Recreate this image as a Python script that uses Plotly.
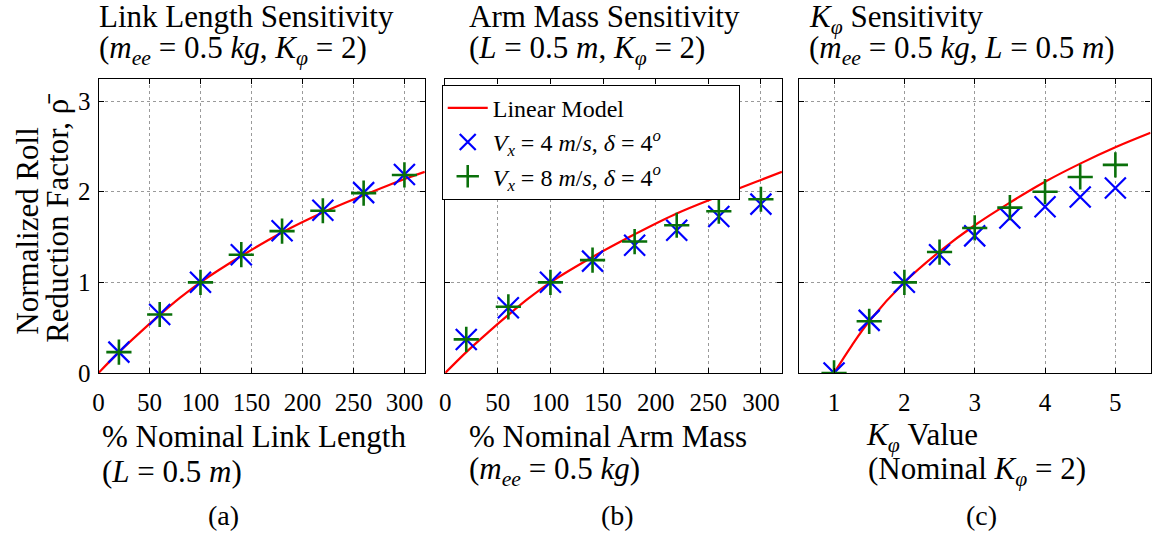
import plotly.graph_objects as go

# ---------------- data ----------------
pct_x = [20, 60, 100, 140, 180, 220, 260, 300]
line_pct_x = [0, 20, 40, 60, 80, 100, 140, 180, 220, 260, 300, 320]

a_line = [0, 0.23, 0.44, 0.64, 0.83, 1.0, 1.29, 1.55, 1.77, 1.96, 2.14, 2.22]
a_blue = [0.23, 0.645, 1.0, 1.305, 1.57, 1.795, 1.99, 2.19]
a_green = [0.23, 0.645, 1.0, 1.305, 1.565, 1.79, 1.985, 2.185]

b_line = [0, 0.23, 0.44, 0.64, 0.83, 1.0, 1.28, 1.53, 1.76, 1.95, 2.13, 2.22]
b_blue = [0.37, 0.72, 1.0, 1.234, 1.41, 1.575, 1.726, 1.863]
b_green = [0.37, 0.73, 1.0, 1.245, 1.45, 1.63, 1.785, 1.917]

k_x = [1, 1.5, 2, 2.5, 3, 3.5, 4, 4.5, 5]
c_line_x = [1, 1.25, 1.5, 2, 2.5, 3, 3.5, 4, 4.5, 5, 5.5]
c_line = [0, 0.30, 0.57, 1.0, 1.34, 1.63, 1.88, 2.11, 2.31, 2.49, 2.65]
c_blue = [0.0, 0.58, 1.0, 1.305, 1.513, 1.71, 1.835, 1.942, 2.04]
c_green = [0.0, 0.57, 1.0, 1.334, 1.60, 1.824, 2.0, 2.163, 2.296]

pct_ticks = [0, 50, 100, 150, 200, 250, 300]
k_ticks = [1, 2, 3, 4, 5]
y_ticks = [0, 1, 2, 3]

names = ["Linear Model",
         "<i>V<sub>x</sub></i> = 4 <i>m</i>/<i>s</i>, <i>δ</i> = 4<sup><i>o</i></sup>",
         "<i>V<sub>x</sub></i> = 8 <i>m</i>/<i>s</i>, <i>δ</i> = 4<sup><i>o</i></sup>"]

# ---------------- styling ----------------
W, H = 1158, 533
FONT = "Liberation Serif"
RED, BLUE, GREEN = "#ff0000", "#0000ff", "#0a700a"
PAD = "&nbsp;" * 12   # widens the legend box like the reference

def px(x):
    return x / W

def py(y):
    return 1 - y / H

fig = go.Figure()

panels = [
    ("x", "y", line_pct_x, a_line, pct_x, a_blue, a_green, False),
    ("x2", "y2", line_pct_x, b_line, pct_x, b_blue, b_green, True),
    ("x3", "y3", c_line_x, c_line, k_x, c_blue, c_green, False),
]
for xa, ya, lx, ly, mx, mb, mg, show in panels:
    fig.add_trace(go.Scatter(x=lx, y=ly, mode="lines", line=dict(color=RED, width=2.2, shape="spline"),
                             name=names[0], showlegend=show, xaxis=xa, yaxis=ya))
    fig.add_trace(go.Scatter(x=mx, y=mb, mode="markers", name=names[1] + PAD, showlegend=show,
                             marker=dict(symbol="x-thin", size=21, color=BLUE,
                                         line=dict(color=BLUE, width=2.2)),
                             xaxis=xa, yaxis=ya))
    fig.add_trace(go.Scatter(x=mx, y=mg, mode="markers", name=names[2] + PAD, showlegend=show,
                             marker=dict(symbol="cross-thin", size=18, color=GREEN,
                                         line=dict(color=GREEN, width=2.6)),
                             xaxis=xa, yaxis=ya))

ydom = [py(383), py(81.5)]
axis_common = dict(showline=True, linecolor="black", linewidth=1.2, mirror="allticks",
                   ticks="inside", ticklen=5, tickcolor="black", tickwidth=1,
                   showgrid=True, gridcolor="#9a9a9a", griddash="dot", gridwidth=1,
                   zeroline=False, tickfont=dict(family=FONT, size=25, color="black"))

fig.update_layout(
    width=W, height=H, margin=dict(l=0, r=0, t=0, b=0),
    paper_bgcolor="white", plot_bgcolor="white",
    font=dict(family=FONT, color="black"),
    xaxis=dict(domain=[px(93), px(421)], range=[0, 320], tickvals=pct_ticks,
               anchor="y", ticklabelstandoff=7, **axis_common),
    yaxis=dict(domain=ydom, range=[0, 3.24], tickvals=y_ticks, anchor="x",
               ticklabelstandoff=2, **axis_common),
    xaxis2=dict(domain=[px(441.5), px(780)], range=[0, 320], tickvals=pct_ticks,
                anchor="y2", ticklabelstandoff=7, **axis_common),
    yaxis2=dict(domain=ydom, range=[0, 3.24], tickvals=y_ticks, anchor="x2",
                showticklabels=False, **axis_common),
    xaxis3=dict(domain=[px(797), px(1150.5)], range=[0.5, 5.5], tickvals=k_ticks,
                anchor="y3", ticklabelstandoff=7, **axis_common),
    yaxis3=dict(domain=ydom, range=[0, 3.24], tickvals=y_ticks, anchor="x3",
                showticklabels=False, **axis_common),
    legend=dict(x=px(438), y=py(87), xanchor="left", yanchor="top",
                bgcolor="white", bordercolor="black", borderwidth=1,
                font=dict(family=FONT, size=24, color="black"),
                tracegroupgap=0, itemwidth=40),
)

def txt(text, x, y, size=31, xanchor="left", angle=0):
    fig.add_annotation(text=text, x=px(x), y=py(y), xref="paper", yref="paper",
                       xanchor=xanchor, yanchor="middle", showarrow=False,
                       textangle=angle, font=dict(family=FONT, size=size, color="black"))

# titles
txt("Link Length Sensitivity", 91, 17)
txt("(<i>m<sub>ee</sub></i> = 0.5 <i>kg</i>, <i>K<sub>φ</sub></i> = 2)", 91, 51)
txt("Arm Mass Sensitivity", 463, 17)
txt("(<i>L</i> = 0.5 <i>m</i>, <i>K<sub>φ</sub></i> = 2)", 463, 51)
txt("<i>K<sub>φ</sub></i> Sensitivity", 805, 19)
txt("(<i>m<sub>ee</sub></i> = 0.5 <i>kg</i>, <i>L</i> = 0.5 <i>m</i>)", 805, 51)

# x labels
txt("% Nominal Link Length", 94, 448)
txt("(<i>L</i> = 0.5 <i>m</i>)", 94, 484)
txt("% Nominal Arm Mass", 463, 448)
txt("(<i>m<sub>ee</sub></i> = 0.5 <i>kg</i>)", 463, 484)
txt("<i>K<sub>φ</sub></i> Value", 862, 449)
txt("(Nominal <i>K<sub>φ</sub></i> = 2)", 864, 484)

# sub-figure captions
txt("(a)", 219, 529, size=28, xanchor="center")
txt("(b)", 615, 529, size=28, xanchor="center")
txt("(c)", 981, 529, size=28, xanchor="center")

# y axis title
txt("Normalized Roll", 22, 237, xanchor="center", angle=-90)
txt("Reduction Factor, ρ̄", 51, 224, xanchor="center", angle=-90)

fig.write_html("out.html")
